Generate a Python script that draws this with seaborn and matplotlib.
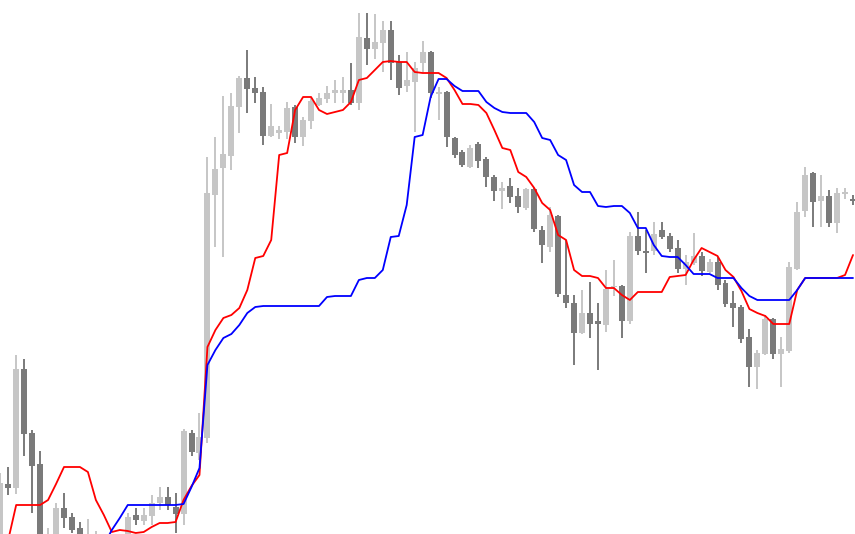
import numpy as np
import pandas as pd
import matplotlib
matplotlib.use("Agg")
import matplotlib.pyplot as plt
import seaborn as sns

# OHLC prices (pips above the chart floor), one entry per bar
opens = [-6, 50, 46, 165, 101, 70, -14, -6, 26, 17, 6, -11, -14, -11, -14, -22,
         -6, 19, 13, 18, 31, 37, 27, 20, 101, 81, 96, 339, 366, 378, 427, 456,
         446, 442, 398, 401, 402, 427, 397, 413, 429, 435, 441, 441, 444, 431, 496, 485,
         491, 504, 472, 448, 452, 471, 482, 440, 442, 396, 382, 367, 390, 375,
         357, 343, 348, 338, 326, 345, 304, 287, 318, 239, 231, 201, 221, 213,
         209, 247, 248, 213, 298, 283, 283, 304, 298, 286, 265, 271, 278, 262,
         272, 251, 231, 227, 197, 167, 180, 215, 180, 183, 265, 323, 361, 333,
         338, 311, 340, 335]
highs = [61, 67, 179, 175, 104, 83, 6, 31, 41, 21, 12, 15, 3, -4, -6, -3,
         21, 26, 26, 39, 47, 47, 41, 105, 104, 121, 377, 397, 438, 441, 458, 484,
         457, 447, 430, 408, 432, 429, 417, 436, 441, 448, 454, 457, 471, 521, 521, 520,
         513, 513, 479, 482, 472, 493, 483, 447, 443, 397, 384, 389, 392, 377,
         359, 352, 356, 346, 346, 346, 308, 327, 319, 294, 239, 244, 252, 231,
         264, 274, 249, 302, 322, 304, 312, 312, 301, 294, 279, 301, 282, 275,
         277, 254, 243, 229, 205, 184, 219, 216, 197, 272, 332, 367, 362, 359,
         344, 346, 346, 339]
lows = [-14, 39, 40, 78, 21, -18, -18, -11, 6, 1, -8, -16, -18, -22, -26, -26,
        -11, 9, 9, 9, 24, 24, 1, 9, 78, 74, 91, 287, 277, 364, 401, 421,
        431, 389, 397, 395, 395, 391, 388, 405, 428, 431, 431, 431, 429, 424, 469, 475,
        462, 454, 439, 442, 402, 462, 436, 414, 387, 376, 367, 366, 366, 347,
        333, 325, 331, 321, 324, 302, 271, 282, 237, 226, 169, 200, 196, 164,
        202, 238, 196, 210, 279, 261, 279, 295, 282, 261, 249, 269, 258, 261,
        244, 227, 207, 191, 147, 145, 179, 175, 147, 181, 264, 317, 307, 307,
        307, 301, 335, 329]
closes = [51, 46, 165, 100, 68, -11, -4, 26, 16, 4, -3, -2, -4, -16, -22, -11,
          17, 14, 19, 31, 37, 29, 20, 103, 82, 97, 341, 365, 380, 428, 456, 445,
          441, 398, 408, 404, 426, 397, 414, 433, 436, 441, 444, 444, 431, 497, 485, 492,
          504, 471, 446, 454, 466, 482, 441, 442, 397, 379, 369, 386, 373, 357,
          343, 346, 337, 327, 345, 305, 289, 319, 240, 231, 201, 221, 210, 210,
          245, 248, 213, 298, 283, 281, 300, 297, 285, 265, 272, 278, 263, 272,
          249, 230, 226, 195, 167, 181, 215, 180, 185, 267, 322, 359, 332, 338,
          311, 341, 342, 333]

# indicator lines
red_line = [-11, -6, 29, 29, 29, 29, 34, 50, 67, 67, 67, 62, 34, 19, 2, 4,
            3, 1, 2, 7, 11, 11, 12, 34, 48, 59, 187, 204, 216, 219, 226, 244,
            276, 278, 294, 379, 381, 424, 437, 437, 424, 420, 422, 424, 432, 454, 456, 464,
            472, 473, 472, 472, 462, 461, 461, 461, 456, 444, 430, 430, 429, 421,
            404, 386, 384, 362, 357, 346, 331, 324, 299, 294, 264, 258, 258, 256,
            246, 246, 239, 234, 242, 242, 242, 242, 257, 258, 259, 274, 286, 282,
            278, 264, 257, 243, 225, 221, 218, 210, 210, 210, 244, 256, 256, 256,
            256, 256, 259, 279]
blue_line = [np.nan] * 13 + [
            -11, 4, 16,
            29, 29, 29, 29, 29, 29, 29, 30, 47, 66, 169, 184, 196, 200, 209, 221,
            227, 228, 228, 228, 228, 228, 228, 228, 228, 237, 238, 238, 238, 254, 256, 256,
            264, 297, 298, 329, 397, 399, 437, 455, 455, 448, 443, 443, 443, 432,
            426, 422, 421, 421, 421, 412, 396, 394, 379, 374, 349, 342, 342, 328,
            327, 328, 328, 321, 306, 306, 289, 278, 277, 277, 269, 260, 260, 260,
            256, 256, 256, 246, 238, 234, 234, 234, 234, 234, 244, 256, 256, 256,
            256, 256, 256, 256]

bars = pd.DataFrame({"open": opens, "high": highs, "low": lows, "close": closes})
bars["bar"] = np.arange(len(bars))
lines = pd.DataFrame({"bar": bars["bar"], "red": red_line, "blue": blue_line})

sns.set_style("white")
fig = plt.figure(figsize=(8.55, 5.34), dpi=100)
ax = fig.add_axes([0, 0, 1, 1])

up_col, down_col = "#c6c6c6", "#7a7a7a"
colors = np.where(bars["close"] >= bars["open"], up_col, down_col)

# wicks then bodies
ax.vlines(bars["bar"], bars["low"], bars["high"], colors=colors, linewidth=1.4, zorder=1)
body_bottom = np.minimum(bars["open"], bars["close"])
body_height = np.maximum((bars["close"] - bars["open"]).abs(), 1.5)
ax.bar(bars["bar"], body_height, bottom=body_bottom, width=0.75, color=colors,
       linewidth=0, zorder=2)

sns.lineplot(data=lines, x="bar", y="red", color="#ff0000", linewidth=1.3,
             estimator=None, ax=ax, zorder=3)
sns.lineplot(data=lines, x="bar", y="blue", color="#0000ff", linewidth=1.3,
             estimator=None, ax=ax, zorder=4)

ax.set_xlim(-0.03, 107.25)
ax.set_ylim(0, 534)
ax.axis("off")

fig.savefig("out.png", dpi=100, facecolor="white")
